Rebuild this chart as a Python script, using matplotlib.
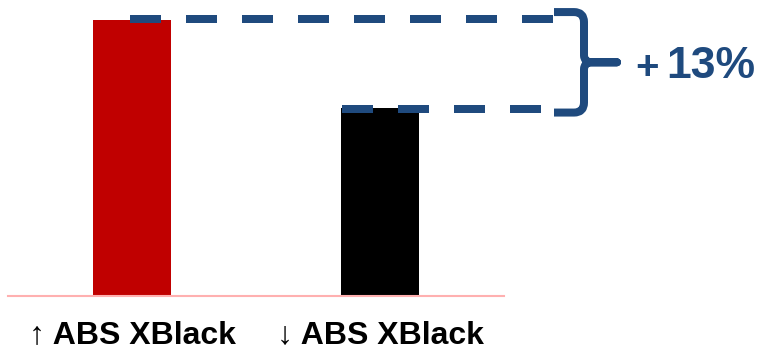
import matplotlib
matplotlib.use("Agg")
import matplotlib.pyplot as plt
from matplotlib.path import Path
from matplotlib.patches import PathPatch
from matplotlib.transforms import IdentityTransform

categories = ["\u2191 ABS XBlack", "\u2193 ABS XBlack"]
values = [113, 100]
bar_colors = ["#C00000", "#000000"]
diff_label = "+ 13%"
y_min = 72

BLUE = "#1F4A7E"
W, H, DPI = 757, 351, 100

plt.rcParams['font.family'] = ['Liberation Sans', 'DejaVu Sans']
fig = plt.figure(figsize=(W / DPI, H / DPI), dpi=DPI)
ax = fig.add_axes([8 / W, (H - 296) / H, (504 - 8) / W, 296 / H])

x = list(range(len(categories)))
ax.bar(x, values, width=0.315, color=bar_colors, zorder=2)
ax.set_xlim(-0.5, 1.5)
ax.set_ylim(y_min, y_min + 296 / 6.73)
ax.set_xticks(x)
ax.set_xticklabels(categories, fontsize=23, fontweight='bold')
ax.tick_params(axis='x', length=0, pad=17)
ax.set_yticks([])
for s in ['top', 'right', 'left']:
    ax.spines[s].set_visible(False)
ax.spines['bottom'].set_color('#FFB0B0')
ax.spines['bottom'].set_linewidth(1.5)

def disp(xd, yd):
    return ax.transData.transform((xd, yd))

x_end_top = 555
x_end_low = 542
x0_top, y_top = disp(x[0], values[0])
x0_low, y_low = disp(x[1] - 0.315 / 2, values[1])
lw = 8 * 72 / DPI
dash = (31 / 8, 25 / 8)
l1 = plt.Line2D([x0_top - 2, x_end_top], [y_top + 1, y_top + 1], transform=IdentityTransform(),
                color=BLUE, lw=lw, linestyle=(0, dash), solid_capstyle='butt', dash_capstyle='butt')
l2 = plt.Line2D([x0_low + 1, x_end_low], [y_low - 1, y_low - 1], transform=IdentityTransform(),
                color=BLUE, lw=lw, linestyle=(0, dash), solid_capstyle='butt', dash_capstyle='butt')
fig.add_artist(l1)
fig.add_artist(l2)

# brace
T = y_top + 8
B = y_low - 5
M = (T + B) / 2
bx0, xv, xt, r = 554, 584, 617, 10
verts = [
    (bx0, T), (xv - r, T),
    (xv, T), (xv, T - r),
    (xv, M + 7),
    (xv, M), (xv + 8, M),
    (xt, M),
    (xv + 8, M),
    (xv, M), (xv, M - 7),
    (xv, B + r),
    (xv, B), (xv - r, B),
    (bx0, B),
]
codes = [Path.MOVETO, Path.LINETO,
         Path.CURVE3, Path.CURVE3,
         Path.LINETO,
         Path.CURVE3, Path.CURVE3,
         Path.LINETO,
         Path.LINETO,
         Path.CURVE3, Path.CURVE3,
         Path.LINETO,
         Path.CURVE3, Path.CURVE3,
         Path.LINETO]
brace = PathPatch(Path(verts, codes), transform=IdentityTransform(), fill=False,
                  edgecolor=BLUE, lw=lw, joinstyle='round', capstyle='butt')
fig.add_artist(brace)

plus, pct = diff_label.split(" ")
fig.text(635 / W, (H - 68) / H, plus, fontsize=29, fontweight='bold', color=BLUE,
         ha='left', va='center')
fig.text(666 / W, (H - 67) / H, pct, fontsize=32, fontweight='bold', color=BLUE,
         ha='left', va='center')

fig.savefig("out.png", dpi=DPI)
